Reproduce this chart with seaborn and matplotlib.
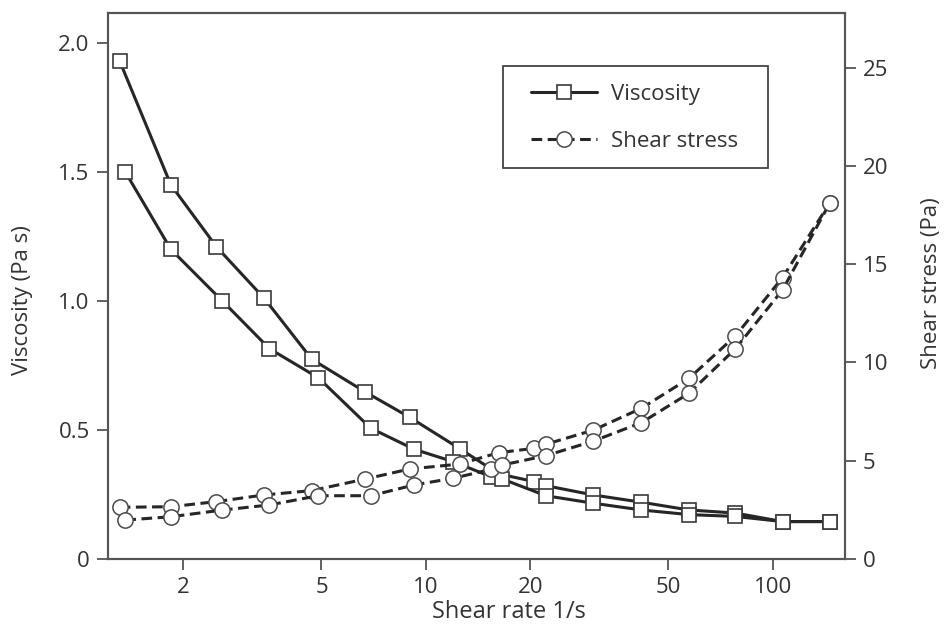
import matplotlib
matplotlib.use("Agg")
import matplotlib.pyplot as plt
import seaborn as sns
from matplotlib.patches import Rectangle
from matplotlib.ticker import NullLocator, FixedLocator, FixedFormatter

# shear rate (1/s) for the two sweeps
rate_a = [1.31, 1.84, 2.49, 3.42, 4.69, 6.69, 8.98, 12.5, 16.2, 20.5, 22.2, 30.4, 41.8, 57.3, 78, 106.6, 146]
rate_b = [1.36, 1.84, 2.59, 3.54, 4.90, 6.93, 9.26, 12.0, 15.4, 16.6, 22.2, 30.4, 41.8, 57.3, 78, 106.6, 146]

# viscosity (Pa s)
visc_a = [1.93, 1.45, 1.21, 1.01, 0.774, 0.647, 0.549, 0.428, 0.33, 0.300, 0.284, 0.248, 0.220, 0.19, 0.178, 0.145, 0.145]
visc_b = [1.50, 1.20, 1.00, 0.815, 0.702, 0.507, 0.425, 0.377, 0.319, 0.310, 0.245, 0.216, 0.190, 0.172, 0.165, 0.145, 0.145]

# shear stress (Pa)
stress_a = [2.63, 2.66, 2.92, 3.26, 3.48, 4.07, 4.58, 4.83, 5.41, 5.63, 5.84, 6.56, 7.67, 9.19, 11.35, 14.32, 18.13]
stress_b = [1.98, 2.15, 2.49, 2.75, 3.22, 3.22, 3.77, 4.11, 4.56, 4.78, 5.26, 6.00, 6.94, 8.43, 10.70, 13.69, 18.13]

x_ticks = [2, 5, 10, 20, 50, 100]
visc_ticks = [0, 0.5, 1.0, 1.5, 2.0]
visc_labels = ["0", "0.5", "1.0", "1.5", "2.0"]
stress_ticks = [0, 5, 10, 15, 20, 25]

sns.set_style("ticks")
plt.rcParams["font.family"] = ["Open Sans", "DejaVu Sans"]
text_col = "#333333"
spine_col = "#555555"
line_col = "#262626"
fs = 16
lab_fs = 16

fig = plt.figure(figsize=(9.48, 6.34), dpi=100)
ax = fig.add_axes([0.1136, 0.1183, 0.7774, 0.8612])
ax2 = ax.twinx()

sq = dict(marker="s", markersize=10, markerfacecolor="white", markeredgecolor="#3a3a3a",
          markeredgewidth=1.2, color=line_col, linewidth=2.2, errorbar=None)
ci = dict(marker="o", markersize=11, markerfacecolor="white", markeredgecolor="#4a4a4a",
          markeredgewidth=1.1, color=line_col, linewidth=2.2, linestyle=(0, (3.5, 1.8)), errorbar=None)

sns.lineplot(x=rate_a, y=visc_a, ax=ax, **sq)
sns.lineplot(x=rate_b, y=visc_b, ax=ax, **sq)
sns.lineplot(x=rate_a, y=stress_a, ax=ax2, **ci)
sns.lineplot(x=rate_b, y=stress_b, ax=ax2, **ci)

ax.set_xscale("log")
ax.set_xlim(1.21, 161)
ax.xaxis.set_major_locator(FixedLocator(x_ticks))
ax.xaxis.set_major_formatter(FixedFormatter([str(t) for t in x_ticks]))
ax.xaxis.set_minor_locator(NullLocator())
ax.set_ylim(0, 2.116)
ax.set_yticks(visc_ticks)
ax.set_yticklabels(visc_labels)
ax2.set_ylim(0, 27.78)
ax2.set_yticks(stress_ticks)
ax2.set_yticklabels([str(t) for t in stress_ticks])

ax.set_xlabel("Shear rate 1/s", fontsize=17, color=text_col)
ax.set_ylabel("Viscosity (Pa s)", fontsize=lab_fs, color=text_col)
ax2.set_ylabel("Shear stress (Pa)", fontsize=lab_fs, color=text_col)
# label positions as in the original (x label sits right of centre)
ax.xaxis.set_label_coords(0.544, -0.075)
ax.yaxis.set_label_coords(-0.102, 0.474)
ax2.yaxis.set_label_coords(1.104, 0.506)

for a in (ax, ax2):
    a.tick_params(axis="both", labelsize=fs, labelcolor=text_col, color=spine_col,
                  length=8, width=1.3, pad=5, direction="out")
    for s in a.spines.values():
        s.set_visible(True)
        s.set_color(spine_col)
        s.set_linewidth(1.5)

# legend frame drawn separately so the padding can match the original box
fig.patches.append(Rectangle((503 / 948, 1 - 168 / 634), 265 / 948, 102 / 634,
                             transform=fig.transFigure, fill=False,
                             edgecolor="#444444", linewidth=1.3, zorder=5))
handles = [ax.lines[0], ax2.lines[0]]
leg = ax.legend(handles, ["Viscosity", "Shear stress"], loc="upper left",
                bbox_to_anchor=((531 - 107.7) / 737.3, (559 - 84) / 546), fontsize=fs,
                frameon=False, handlelength=3.0, handletextpad=0.6,
                borderpad=0, labelspacing=1.15, borderaxespad=0)
for t in leg.get_texts():
    t.set_color(text_col)

fig.savefig("out.png", dpi=100)
